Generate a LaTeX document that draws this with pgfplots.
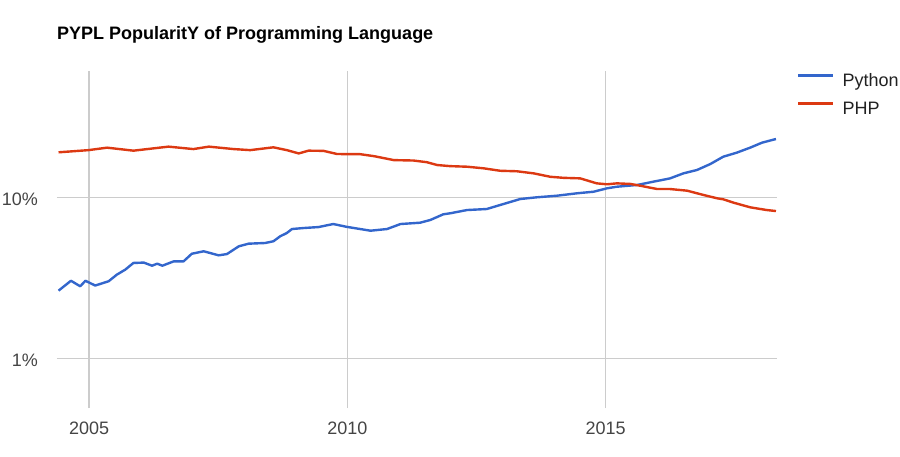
\documentclass[border=0pt]{standalone}
\usepackage{pgfplots}
\pgfplotsset{compat=1.18}
\usepackage{fontspec}
\setmainfont{Liberation Sans}
\definecolor{pyblue}{HTML}{3366CC}
\definecolor{phpred}{HTML}{DC3912}
\definecolor{gridgray}{HTML}{CCCCCC}
\definecolor{ticktext}{HTML}{444444}
\newcommand\fs{\fontsize{18}{21}\selectfont}
\begin{document}
\begin{tikzpicture}
\path[use as bounding box] (0pt,0pt) rectangle (900pt,456pt);
\node[anchor=base west, inner sep=0pt, font=\fs\bfseries, text=black] at (57pt,416.7pt) {PYPL PopularitY of Programming Language};
\begin{axis}[
  at={(57pt,48pt)}, anchor=south west,
  scale only axis, width=720pt, height=337pt,
  xmin=2004.38, xmax=2018.32,
  ymode=log, ymin=0.495, ymax=60.6,
  axis line style={draw=none},
  major tick style={draw=none}, minor tick style={draw=none},
  xtick={2005,2010,2015}, xticklabels={2005,2010,2015},
  ytick={1,10}, yticklabels={1\%,10\%},
  minor ytick={}, 
  xmajorgrids, ymajorgrids,
  major grid style={gridgray, line width=1.2pt},
  /pgf/number format/assume math mode=true,
  xticklabel style={anchor=north, inner sep=0pt, yshift=-14pt, text height=12.6pt, text depth=0pt, font=\fs, text=ticktext},
  yticklabel style={anchor=east, inner sep=0pt, xshift=-19pt, yshift=-1.5pt, text height=12.6pt, text depth=0pt, font=\fs, text=ticktext},
  legend cell align=left,
  legend style={at={(1.0278,0.9917)}, anchor=north west, draw=none, fill=none, inner sep=0pt, column sep=8pt, row sep=12pt,
    nodes={inner sep=0pt, text height=12.6pt, text depth=3.4pt, font=\fs, text={black!87}}},
  legend image code/.code={\draw[#1] (0pt,6.3pt) -- (35pt,6.3pt);},
]
\addplot[pyblue, line width=2.4pt, line join=round] coordinates {
(2004.41,2.64) (2004.65,3.04) (2004.83,2.81) (2004.93,3.04) (2005.12,2.84) (2005.38,3.02) (2005.54,3.32) (2005.70,3.56) (2005.86,3.92) (2006.06,3.94) (2006.22,3.77) (2006.32,3.88) (2006.42,3.77) (2006.64,4.01) (2006.83,4.01) (2006.99,4.47) (2007.22,4.63) (2007.51,4.37) (2007.67,4.45) (2007.90,4.97) (2008.09,5.16) (2008.41,5.21) (2008.57,5.34) (2008.70,5.73) (2008.83,6.01) (2008.93,6.36) (2009.15,6.45) (2009.44,6.54) (2009.73,6.83) (2009.99,6.56) (2010.45,6.21) (2010.77,6.36) (2011.03,6.83) (2011.41,6.96) (2011.61,7.24) (2011.86,7.85) (2011.99,7.96) (2012.32,8.34) (2012.70,8.46) (2012.96,8.96) (2013.35,9.76) (2013.67,10.0) (2014.06,10.23) (2014.45,10.59) (2014.77,10.83) (2015.03,11.37) (2015.22,11.63) (2015.61,11.92) (2015.93,12.5) (2016.25,13.1) (2016.51,14.08) (2016.77,14.76) (2017.03,16.08) (2017.28,17.85) (2017.54,18.9) (2017.80,20.3) (2018.03,21.8) (2018.30,22.97)
};
\addlegendentry{Python}
\addplot[phpred, line width=2.4pt, line join=round] coordinates {
(2004.41,19.0) (2004.99,19.6) (2005.35,20.3) (2005.86,19.45) (2006.54,20.6) (2007.02,19.9) (2007.32,20.6) (2007.80,19.9) (2008.12,19.6) (2008.57,20.4) (2008.83,19.6) (2009.06,18.7) (2009.25,19.45) (2009.54,19.4) (2009.80,18.55) (2010.06,18.5) (2010.25,18.5) (2010.51,18.0) (2010.90,17.0) (2011.28,16.9) (2011.54,16.5) (2011.74,15.85) (2011.99,15.6) (2012.32,15.47) (2012.64,15.12) (2012.96,14.6) (2013.28,14.5) (2013.61,14.07) (2013.93,13.4) (2014.19,13.2) (2014.51,13.1) (2014.83,12.2) (2015.03,12.04) (2015.22,12.2) (2015.48,12.1) (2015.67,11.8) (2016.00,11.25) (2016.25,11.25) (2016.58,10.99) (2016.90,10.33) (2017.16,9.86) (2017.28,9.72) (2017.48,9.26) (2017.80,8.67) (2018.12,8.34) (2018.30,8.22)
};
\addlegendentry{PHP}
\end{axis}
\end{tikzpicture}
\end{document}
